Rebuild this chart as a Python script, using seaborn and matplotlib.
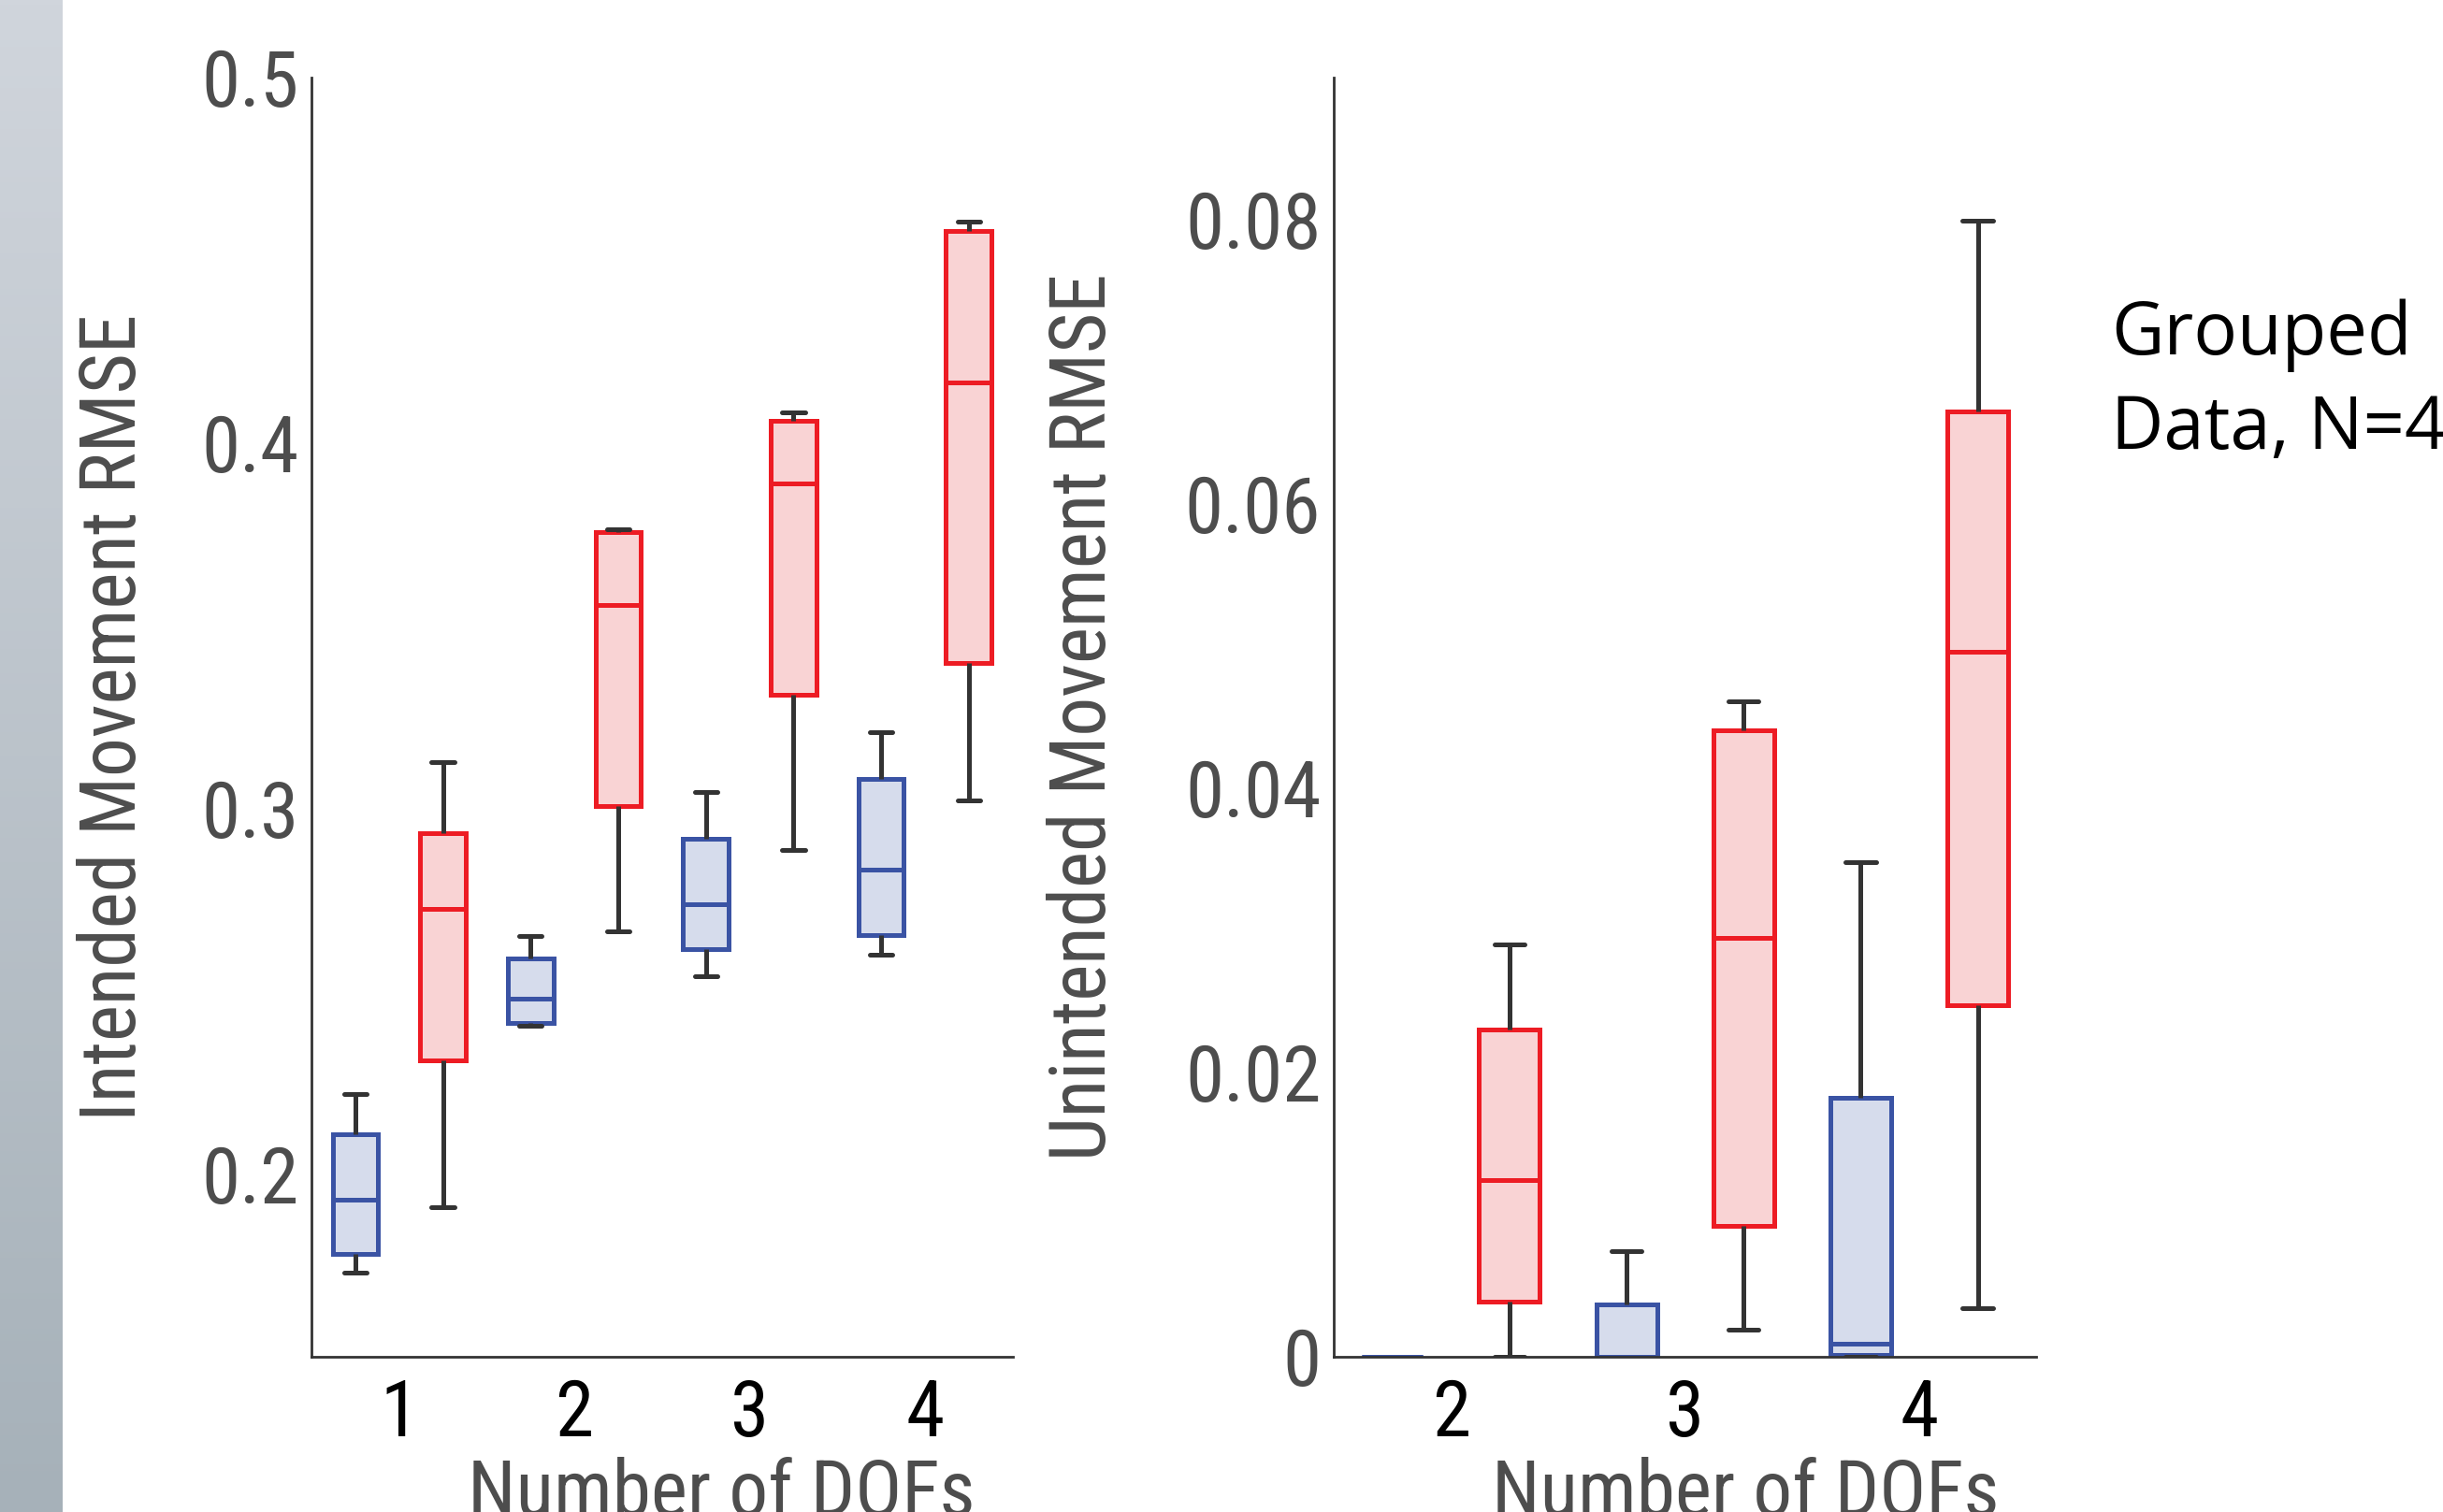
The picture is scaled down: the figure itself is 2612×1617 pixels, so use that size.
import numpy as np
import pandas as pd
import seaborn as sns
import matplotlib.pyplot as plt
from matplotlib.colors import LinearSegmentedColormap

# five-number summaries: [low whisker, q1, median, q3, high whisker]
conds = ['A', 'B']

left_dofs = [1, 2, 3, 4]
left_a = [[0.173, 0.178, 0.193, 0.211, 0.222],
          [0.2405, 0.2414, 0.248, 0.259, 0.265],
          [0.254, 0.2615, 0.2737, 0.2916, 0.3045],
          [0.260, 0.2654, 0.2832, 0.3081, 0.321]]
left_b = [[0.191, 0.231, 0.2725, 0.2932, 0.3128],
          [0.2664, 0.3007, 0.3557, 0.3757, 0.3763],
          [0.2887, 0.3311, 0.389, 0.406, 0.4083],
          [0.3023, 0.3399, 0.4165, 0.4581, 0.4607]]

right_dofs = [2, 3, 4]
right_a = [[0.0, 0.0, 0.0, 0.0, 0.0],
           [0.0, 0.0, 0.0, 0.0037, 0.0074],
           [0.0, 0.0001, 0.0009, 0.0182, 0.0348]]
right_b = [[0.0, 0.0039, 0.0124, 0.0230, 0.0290],
           [0.0019, 0.0092, 0.0295, 0.0441, 0.0461],
           [0.0034, 0.0247, 0.0496, 0.0665, 0.0799]]

left_ticks = [0.15, 0.2, 0.25, 0.3, 0.35, 0.4, 0.45, 0.5]
left_labels = ['', '0.2', '', '0.3', '', '0.4', '', '0.5']
right_ticks = [0, 0.01, 0.02, 0.03, 0.04, 0.05, 0.06, 0.07, 0.08, 0.09]
right_labels = ['0', '', '0.02', '', '0.04', '', '0.06', '', '0.08', '']

fills = {'A': '#D6DCEC', 'B': '#F9D3D4'}
edges = {'A': '#3A53A4', 'B': '#ED1C24'}
dark = '#333333'
gray_txt = '#4D4D4D'
fsize = 30


def long_df(dofs, a, b):
    rows = []
    for d, va, vb in zip(dofs, a, b):
        for v in va:
            rows.append((str(d), 'A', v))
        for v in vb:
            rows.append((str(d), 'B', v))
    return pd.DataFrame(rows, columns=['dof', 'cond', 'rmse'])


left_df = long_df(left_dofs, left_a, left_b)
right_df = long_df(right_dofs, right_a, right_b)

sns.set_theme(style='white')
plt.rcParams['font.family'] = ['Roboto Condensed', 'Liberation Sans', 'DejaVu Sans']

fig = plt.figure(figsize=(13.06, 8.085), dpi=200)

# grey gradient strip on the left edge
ax_bar = fig.add_axes([0, 0, 67 / 2612, 1])
grad = np.linspace(0, 1, 256).reshape(-1, 1)
bar_cmap = LinearSegmentedColormap.from_list('bar', ['#D0D5DC', '#A6B1B9'])
ax_bar.imshow(grad, aspect='auto', cmap=bar_cmap)
ax_bar.axis('off')

ax1 = fig.add_axes([0.1275, 0.1027, 0.287, 0.846])
ax2 = fig.add_axes([0.546, 0.1027, 0.2875, 0.846])


def draw(ax, df, dofs):
    order = [str(d) for d in dofs]
    for c in conds:
        sns.boxplot(data=df[df['cond'] == c], x='dof', y='rmse', hue='cond',
                    hue_order=conds, order=order, palette=fills, saturation=1,
                    dodge=True, linecolor=edges[c], width=1.0, gap=0.48,
                    whis=(0, 100), fliersize=0, linewidth=1.8, legend=False, ax=ax,
                    whiskerprops=dict(color=dark, linewidth=1.8),
                    capprops=dict(color=dark, linewidth=1.8),
                    medianprops=dict(color=edges[c], linewidth=1.8))
    for s in ['top', 'right']:
        ax.spines[s].set_visible(False)
    for s in ['left', 'bottom']:
        ax.spines[s].set_color(dark)
        ax.spines[s].set_linewidth(1.0)
    ax.tick_params(axis='both', direction='in', length=5.5, width=1.0, color=dark)
    ax.tick_params(axis='y', labelsize=fsize, labelcolor=gray_txt, pad=5)
    ax.tick_params(axis='x', labelsize=fsize, labelcolor='black', pad=8)
    ax.set_xlabel('Number of DOFs', fontsize=fsize, color=gray_txt)


draw(ax1, left_df, left_dofs)
ax1.set_ylim(0.15, 0.5)
ax1.set_yticks(left_ticks)
ax1.set_yticklabels(left_labels)
ax1.set_ylabel('Intended Movement RMSE', fontsize=fsize, color=gray_txt)
ax1.yaxis.set_label_coords(-0.2285, 0.5)
ax1.xaxis.set_label_coords(0.584, -0.078)
ax1.set_xlim(-0.5, 3.5)

draw(ax2, right_df, right_dofs)
ax2.set_ylim(0, 0.09)
ax2.set_yticks(right_ticks)
ax2.set_yticklabels(right_labels)
ax2.set_ylabel('Unintended Movement RMSE', fontsize=fsize, color=gray_txt)
ax2.yaxis.set_label_coords(-0.302, 0.5)
ax2.xaxis.set_label_coords(0.586, -0.078)
ax2.set_xlim(-0.5, 2.5)

fig.text(0.864, 0.803, 'Grouped\nData, N=4', fontsize=28, color='black',
         family=['Open Sans', 'DejaVu Sans'],
         ha='left', va='top', linespacing=1.38)

fig.savefig('out.png', dpi=200)
